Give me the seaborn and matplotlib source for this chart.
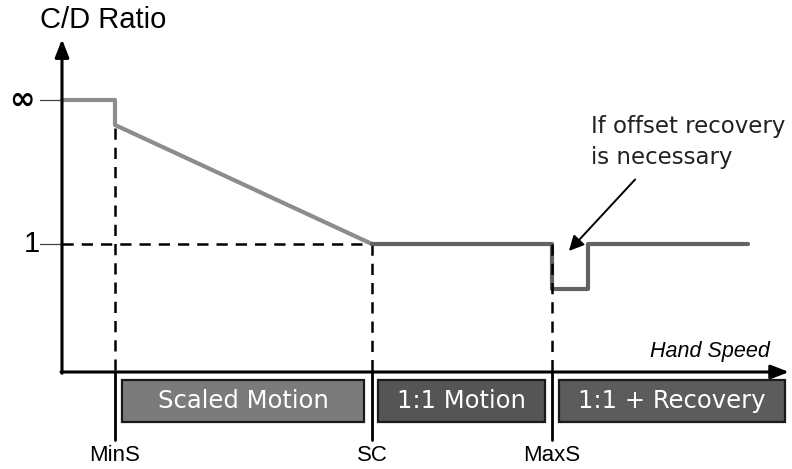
import matplotlib
matplotlib.use("Agg")
import matplotlib.pyplot as plt
import seaborn as sns
import pandas as pd
from matplotlib.patches import Rectangle, FancyArrowPatch

sns.set_theme(style="white")
plt.rcParams['font.family'] = ['DejaVu Sans']

# ---- data (abstract hand-speed / C/D-ratio units) ----
MIN_S, SC, MAX_S = 0.53, 3.10, 4.90
RECOVERY_END, SPEED_END = 5.26, 6.86
INF_LEVEL, SLOPE_START, ONE, DIP = 2.125, 1.93, 1.0, 0.65

scaled_x = [0.0, MIN_S, MIN_S, SC]
scaled_y = [INF_LEVEL, INF_LEVEL, SLOPE_START, ONE]
unit_x = [SC, MAX_S, MAX_S, RECOVERY_END, RECOVERY_END, SPEED_END]
unit_y = [ONE, ONE, DIP, DIP, ONE, ONE]

thresholds = [MIN_S, SC, MAX_S]
threshold_labels = ["MinS", "SC", "MaxS"]
region_labels = ["Scaled Motion", "1:1 Motion", "1:1 + Recovery"]
region_colors = ["#7b7b7b", "#555555", "#5c5c5c"]
y_tick_vals = [INF_LEVEL, ONE]
y_tick_labels = ["\u221e", "1"]

fig = plt.figure(figsize=(7.92, 4.69), dpi=100)
ax = fig.add_axes([0, 0, 1, 1])
ax.set_xlim(-0.62, 7.30)
ax.set_ylim(-97 / 128, 372 / 128)
ax.axis("off")

df1 = pd.DataFrame({"speed": scaled_x, "ratio": scaled_y})
df2 = pd.DataFrame({"speed": unit_x, "ratio": unit_y})
sns.lineplot(data=df1, x="speed", y="ratio", sort=False, estimator=None,
             color="#8c8c8c", lw=3.0, ax=ax, zorder=3)
sns.lineplot(data=df2, x="speed", y="ratio", sort=False, estimator=None,
             color="#626262", lw=3.0, ax=ax, zorder=3)

# axes arrows
ax.annotate("", xy=(0, 2.60), xytext=(0, -0.01),
            arrowprops=dict(arrowstyle="-|>,head_length=0.9,head_width=0.35",
                            color="black", lw=2.2, shrinkA=0, shrinkB=0), zorder=4)
ax.annotate("", xy=(7.27, 0), xytext=(-0.01, 0),
            arrowprops=dict(arrowstyle="-|>,head_length=0.9,head_width=0.35",
                            color="black", lw=2.2, shrinkA=0, shrinkB=0), zorder=4)

dash = (0, (4.5, 3.2))
# dashed guide lines
ax.plot([MIN_S, MIN_S], [SLOPE_START - 0.02, 0], color="black", lw=1.8, ls=dash, zorder=2)
ax.plot([0, SC], [ONE, ONE], color="black", lw=1.8, ls=dash, zorder=2)
ax.plot([SC, SC], [ONE, 0], color="black", lw=1.8, ls=dash, zorder=2)
ax.plot([MAX_S, MAX_S], [ONE, 0], color="black", lw=1.8, ls=dash, zorder=4)

# y tick marks and labels
for v, lab in zip(y_tick_vals, y_tick_labels):
    ax.plot([-0.22, 0], [v, v], color="#444444", lw=0.9, zorder=2)
    if lab == "1":
        ax.text(-0.30, v, lab, ha="center", va="center", fontsize=21,
                family="Liberation Sans", color="black")
    else:
        ax.text(-0.40, v, lab, ha="center", va="center", fontsize=22,
                fontweight="bold", color="black")

ax.text(-0.22, 2.75, "C/D Ratio", ha="left", va="center", fontsize=21,
        family="Liberation Sans", color="black")
ax.text(7.08, 0.16, "Hand Speed", ha="right", va="center", fontsize=15.5,
        family="Liberation Sans", style="italic", color="black")

# solid threshold lines below axis + labels
for t, lab in zip(thresholds, threshold_labels):
    ax.plot([t, t], [0, -0.53], color="black", lw=2.0, zorder=4)
    ax.text(t, -0.655, lab, ha="center", va="center", fontsize=16,
            family="Liberation Sans", color="black")

# region boxes
starts = [MIN_S + 0.07, SC + 0.06, MAX_S + 0.07]
ends = [SC - 0.08, MAX_S - 0.07, 7.23]
for s, e, lab, c in zip(starts, ends, region_labels, region_colors):
    ax.add_patch(Rectangle((s, -0.39), e - s, 0.33, facecolor=c,
                           edgecolor="#1a1a1a", lw=1.6, zorder=3))
    ax.text((s + e) / 2, -0.225, lab, ha="center", va="center",
            color="white", fontsize=17.5, zorder=5)

# annotation
ax.text(5.29, 2.01, "If offset recovery\nis necessary", ha="left", va="top",
        fontsize=16.5, color="#222222", linespacing=1.45)
ax.add_patch(FancyArrowPatch((5.75, 1.52), (5.05, 0.93),
                             arrowstyle="-|>,head_length=6,head_width=3",
                             color="black", lw=1.4, mutation_scale=1.5, zorder=5))

fig.savefig("out.png", dpi=100)
